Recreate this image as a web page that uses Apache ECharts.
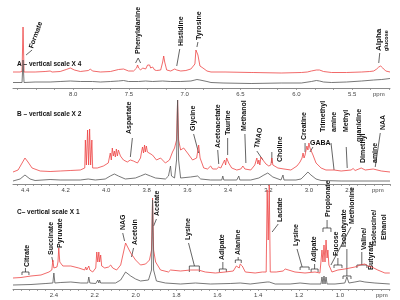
<!DOCTYPE html>
<html>
<head>
<meta charset="utf-8">
<script src="https://cdn.jsdelivr.net/npm/echarts@6/dist/echarts.min.js"></script>
<style>
  html, body { margin: 0; background: #fff; }
  #chart { width: 400px; height: 300px; }
</style>
</head>
<body>
<div id="chart"></div>
<script>
// spectra as [ppm, intensity]
const specA_red = [[8.54,16],[8.477,16],[8.459,16.5],[8.45,61],[8.441,16],[8.342,16],[8.252,16.5],[8.207,17],[8.189,16],[8.117,16.5],[8.063,18.5],[8.026,20],[7.99,18],[7.936,16.5],[7.864,17.5],[7.846,19],[7.828,17],[7.756,16],[7.666,16.5],[7.594,18.5],[7.549,19],[7.504,17],[7.459,17],[7.432,20],[7.423,23],[7.414,20],[7.396,18],[7.378,20],[7.369,18.5],[7.351,19],[7.333,23],[7.324,25],[7.315,23],[7.306,20],[7.288,21],[7.27,18],[7.252,17.5],[7.216,18],[7.198,26],[7.189,32],[7.18,26],[7.162,18],[7.126,17],[7.09,19],[7.081,21],[7.072,18],[7.036,17],[6.99,17.5],[6.945,19],[6.909,24],[6.9,38],[6.891,39],[6.882,33],[6.864,22],[6.837,20],[6.801,17],[6.765,16],[6.657,16],[6.648,17],[6.639,16],[6.405,15.5],[6.396,16.5],[6.387,15.5],[6.135,15],[5.954,15.5],[5.901,16],[5.865,17],[5.82,18],[5.792,18],[5.756,16.5],[5.684,15.5],[5.549,15.5],[5.414,16],[5.342,16.5],[5.306,17],[5.279,19],[5.261,21],[5.252,23],[5.243,22],[5.234,24],[5.225,20],[5.198,17],[5.16,16]];
const specA_gray = [[8.54,5.5],[8.459,5.5],[8.45,28],[8.441,5.5],[8.342,6],[8.207,6],[8.117,6.5],[8.026,7],[7.936,6.5],[7.828,6.5],[7.756,6],[7.666,6.5],[7.594,7],[7.549,7.5],[7.504,6.5],[7.414,6.5],[7.351,7],[7.288,6.5],[7.198,7],[7.126,6.5],[7.036,6.5],[6.945,7],[6.909,8],[6.891,8.5],[6.864,8],[6.801,6.5],[6.765,5.5],[6.657,5],[6.405,4.5],[6.135,5],[5.954,5],[5.865,6.5],[5.82,7.5],[5.792,7],[5.756,6],[5.684,5.5],[5.549,6],[5.414,7],[5.306,8],[5.234,8.5],[5.16,9.5]];

const specB_red = [[4.46,12],[4.435,14],[4.415,21],[4.401,26],[4.386,22],[4.366,16],[4.326,13],[4.277,12.5],[4.227,13],[4.178,13.5],[4.128,14],[4.106,16],[4.103,44],[4.098,19],[4.092,54],[4.087,19],[4.082,55],[4.077,19],[4.071,44],[4.067,16],[4.064,18],[4.044,16],[4.014,18],[3.99,21],[3.98,31],[3.975,24],[3.97,36],[3.965,28],[3.96,33],[3.955,27],[3.95,35],[3.945,28],[3.94,34],[3.93,28],[3.915,24],[3.896,22],[3.881,24],[3.866,23],[3.846,21],[3.831,26],[3.826,32],[3.821,37],[3.816,31],[3.811,39],[3.807,32],[3.802,38],[3.797,32],[3.792,34],[3.772,29],[3.752,24],[3.732,26],[3.708,21],[3.688,24],[3.673,32],[3.663,36],[3.653,44],[3.648,84],[3.643,44],[3.633,34],[3.618,36],[3.599,31],[3.574,24],[3.554,26],[3.544,39],[3.537,26],[3.519,16],[3.5,15],[3.485,18],[3.475,15],[3.455,15],[3.445,17],[3.435,16],[3.416,24],[3.411,19],[3.406,26],[3.396,21],[3.381,16],[3.356,14],[3.336,15],[3.326,18],[3.316,15],[3.287,14],[3.267,19],[3.257,26],[3.252,20],[3.247,24],[3.242,19],[3.237,27],[3.227,24],[3.212,20],[3.198,18],[3.188,19],[3.183,26],[3.178,19],[3.153,16],[3.123,15],[3.089,14],[3.059,18],[3.044,22],[3.034,26],[3.029,31],[3.024,26],[3.019,29],[3.014,34],[3.01,38],[3.005,34],[3.0,41],[2.995,36],[2.99,38],[2.98,29],[2.965,21],[2.94,16],[2.916,14],[2.876,14],[2.841,13],[2.792,14],[2.782,15.5],[2.772,13.5],[2.742,16],[2.722,14],[2.683,15],[2.643,13],[2.6,12]];
const specB_gray = [[4.46,3],[4.425,5],[4.401,9],[4.376,5],[4.351,3.5],[4.277,4.5],[4.227,4],[4.128,4],[4.089,5],[4.054,4],[4.005,5],[3.98,8],[3.96,10],[3.94,8],[3.906,5],[3.856,6],[3.831,8],[3.807,10],[3.782,8],[3.757,6],[3.708,5],[3.693,8],[3.683,18],[3.678,8],[3.663,6],[3.653,24],[3.648,84],[3.643,24],[3.633,6],[3.584,7],[3.549,8],[3.534,5],[3.485,4],[3.43,4],[3.425,8],[3.42,4],[3.356,4],[3.346,8],[3.341,4],[3.287,4],[3.247,6],[3.222,9],[3.203,11],[3.178,7],[3.138,4],[3.128,9],[3.123,4],[3.064,4],[3.039,5],[3.019,9],[3.005,12],[2.99,9],[2.965,5],[2.94,3.5],[2.841,3],[2.6,3]];

const specC_red = [[2.6,11],[2.561,11.5],[2.512,13],[2.463,14],[2.424,17],[2.41,19],[2.405,29],[2.4,21],[2.385,22],[2.38,27],[2.376,41],[2.371,27],[2.356,23],[2.317,23],[2.278,21],[2.249,19],[2.244,22],[2.239,19],[2.229,23],[2.224,19],[2.21,17],[2.195,21],[2.19,37],[2.185,27],[2.18,37],[2.176,27],[2.171,34],[2.166,23],[2.151,21],[2.132,22],[2.122,24],[2.112,21],[2.093,19],[2.073,24],[2.059,37],[2.049,46],[2.039,42],[2.024,36],[2.0,29],[1.976,24],[1.951,25],[1.932,29],[1.922,39],[1.917,91],[1.912,39],[1.902,27],[1.878,19],[1.839,17],[1.829,19],[1.82,17],[1.78,18],[1.732,19],[1.693,19],[1.659,17],[1.61,16],[1.561,17],[1.522,18],[1.507,23],[1.502,21],[1.498,25],[1.493,21],[1.488,25],[1.478,23],[1.463,17],[1.415,16],[1.38,17],[1.361,17],[1.356,99],[1.351,49],[1.346,104],[1.341,17],[1.312,17],[1.278,18],[1.268,20],[1.259,18],[1.22,17],[1.171,16],[1.122,17],[1.098,16],[1.093,27],[1.088,39],[1.083,27],[1.078,44],[1.073,27],[1.068,49],[1.063,31],[1.059,39],[1.054,24],[1.039,17],[1.01,19],[0.976,20],[0.951,21],[0.927,22],[0.912,23],[0.902,24],[0.893,22],[0.878,25],[0.863,23],[0.844,22],[0.815,19],[0.78,16],[0.756,16]];
const specC_gray = [[2.6,4],[2.512,4.5],[2.439,5.5],[2.405,6],[2.4,16],[2.395,6],[2.366,6.5],[2.317,7],[2.268,6],[2.234,6],[2.229,12],[2.224,6],[2.195,5.5],[2.185,9],[2.18,6],[2.176,9],[2.171,6],[2.098,6],[2.073,9],[2.049,17],[2.024,13],[2.0,10],[1.976,8],[1.937,9],[1.922,19],[1.917,89],[1.912,19],[1.898,8],[1.854,6],[1.78,5],[1.707,6],[1.634,5],[1.537,5.5],[1.488,6],[1.439,5],[1.356,7],[1.351,5],[1.346,7],[1.317,5],[1.244,5],[1.195,6],[1.146,5],[1.093,5],[1.088,12],[1.083,5],[1.078,13],[1.073,5],[1.068,12],[1.063,5],[1.024,5],[0.976,6],[0.966,12],[0.956,6],[0.927,7],[0.902,8],[0.878,7],[0.829,6],[0.756,5]];

// axis labels
const labelsA = [8.0, 7.5, 7.0, 6.5, 6.0, 5.5];
const labelsB = [4.4, 4.2, 4.0, 3.8, 3.6, 3.4, 3.2, 3.0, 2.8];
const labelsC = [2.4, 2.2, 2.0, 1.8, 1.6, 1.4, 1.2, 1.0];
const titles = ['A \u2013 vertical scale X 4', 'B \u2013 vertical scale X 2', 'C\u2013 vertical scale X 1'];

// annotations: [text, ppm, intensity (start of text), rotation]
const notesA = [['Formate',8.378,40,70],['Phenylalanine',7.423,34],['Histidine',7.036,42],['Tyrosine',6.873,48],['Alpha',5.261,37],['glucose',5.189,37]];
const leadsA = [[[8.369,38],[8.423,33]],[[7.441,25],[7.418,30],[7.396,25]],[[7.045,39],[7.072,22]],[[6.882,46],[6.891,41]],[[5.252,35],[5.261,25]]];
const notesB = [['Aspartate',3.886,50],['Glycine',3.574,53],['Acetoacetate',3.45,36],['Taurine',3.401,49],['Methanol',3.321,53],['TMAO',3.257,36,80],['Choline',3.143,22],['Creatine',3.024,44],['GABA',2.995,41,0],['Trimethyl',2.93,52],['amine',2.876,52],['Methyl',2.816,52],['guanidine',2.752,42],['Dimethyl',2.732,21],['amine',2.673,21],['NAA',2.633,54]];
const leadsB = [[[3.871,46],[3.881,27]],[[3.569,50],[3.544,31]],[[3.45,34],[3.445,20]],[[3.401,46],[3.401,29]],[[3.316,50],[3.311,21]],[[3.257,33],[3.227,24]],[[3.183,32],[3.183,21]],[[3.019,41],[3.019,32]],[[2.98,37],[2.995,32]],[[2.891,41],[2.876,14]],[[2.816,37],[2.811,16]],[[2.648,51],[2.673,17]]];
const notesC = [['Citrate',2.532,22],['Succinate',2.415,34],['Pyruvate',2.371,41],['NAG',2.063,59],['Acetoin',2.005,44],['Acetate',1.893,73],['Lysine',1.741,49],['Adipate',1.576,29],['Alanine',1.498,34],['Lactate',1.293,67],['Lysine',1.215,43],['Adipate',1.127,27],['Propionate',1.059,72],['Fucose',1.02,33],['Isobutyrate',0.98,42],['Methionine',0.941,65],['Valine/',0.883,39],['Isoleucine/',0.834,43],['Ethanol',0.785,49],['Butyrate',0.849,19]];
const leadsC = [
  [[2.539,21],[2.539,17]], [[2.556,14],[2.556,17],[2.522,17],[2.522,14]],
  [[2.41,32],[2.405,27]],
  [[2.063,56],[2.054,48]],
  [[2.01,41],[2.02,32]],
  [[1.898,70],[1.912,63]],
  [[1.741,46],[1.712,23]], [[1.737,17],[1.737,23],[1.688,23],[1.688,17]],
  [[1.573,27],[1.573,20]], [[1.59,17],[1.59,20],[1.556,20],[1.556,17]],
  [[1.498,32],[1.498,29]], [[1.512,26],[1.512,29],[1.483,29],[1.483,26]],
  [[1.302,65],[1.332,57]],
  [[1.21,40],[1.185,22]], [[1.195,19],[1.195,22],[1.151,22],[1.151,19]],
  [[1.124,25],[1.124,20]], [[1.141,17],[1.141,20],[1.107,20],[1.107,17]],
  [[1.063,69],[1.063,61]], [[1.083,57],[1.083,61],[1.044,61],[1.044,57]],
  [[1.01,31],[1.01,24]], [[1.029,21],[1.029,24],[0.99,24],[0.99,21]],
  [[0.966,40],[0.966,13]], [[0.985,10],[0.985,13],[0.946,13],[0.946,10]],
  [[0.946,62],[1.044,24]],
  [[0.893,37],[0.893,24]], [[0.917,21],[0.917,24],[0.868,24],[0.868,21]]
];

const FONT = 'Liberation Sans, Arial, sans-serif';
const ranges = [[5.16, 8.54], [2.6, 4.46], [0.755, 2.6]];
const ppmPos = [5.26, 2.66, 0.795];
const tickStart = [8.5, 4.44, 2.6];
const tickStep = [1 / 6, 0.04, 0.04];
const tops = [8, 104, 209];

function ticks(i) {
  const out = [];
  for (let v = tickStart[i]; v >= ranges[i][0] - 1e-9; v -= tickStep[i]) out.push(Math.round(v * 1000) / 1000);
  return out;
}

const labelSets = [labelsA, labelsB, labelsC];
const chart = echarts.init(document.getElementById('chart'));

const grid = tops.map(t => ({ left: 13, right: 10, top: t, height: 80 }));
const xAxis = [0, 1, 2].map(i => ({
  type: 'value', gridIndex: i, inverse: true,
  min: ranges[i][0], max: ranges[i][1],
  splitLine: { show: false },
  axisLine: { lineStyle: { color: '#8a8a8a', width: 1 } },
  axisTick: { customValues: ticks(i), length: 2, lineStyle: { color: '#8a8a8a', width: 0.8 } },
  axisLabel: {
    customValues: labelSets[i].concat([ppmPos[i]]),
    fontSize: 6, color: '#444', margin: 3, fontFamily: FONT,
    formatter: v => Math.abs(v - ppmPos[i]) < 1e-6 ? 'ppm' : v.toFixed(1)
  }
}));
const yAxis = [0, 1, 2].map(i => ({ type: 'value', gridIndex: i, show: false, min: 0, max: 80 }));

function line(data, i, color) {
  return {
    type: 'line', xAxisIndex: i, yAxisIndex: i, data: data,
    symbol: 'none', clip: false, silent: true,
    lineStyle: { color: color, width: 0.8 }
  };
}

chart.setOption({
  animation: false,
  title: titles.map((t, i) => ({
    text: t, left: 17, top: [61, 111, 209][i], padding: 0,
    textStyle: { fontSize: 6.5, fontWeight: 'bold', color: '#111', fontFamily: FONT }
  })),
  grid: grid, xAxis: xAxis, yAxis: yAxis,
  series: [
    line(specA_red, 0, '#ee4444'), line(specA_gray, 0, '#555'),
    line(specB_red, 1, '#ee4444'), line(specB_gray, 1, '#555'),
    line(specC_red, 2, '#ee4444'), line(specC_gray, 2, '#555')
  ]
});

// annotation text and leader lines, placed through the chart's own scales
const sizes = { Alpha: 8, glucose: 5.5 };
const graphic = [];
[[notesA, leadsA], [notesB, leadsB], [notesC, leadsC]].forEach(([notes, leads], g) => {
  notes.forEach(n => {
    const p = chart.convertToPixel({ gridIndex: g }, [n[1], n[2]]);
    const rot = n[3] === undefined ? 90 : n[3];
    graphic.push({
      type: 'text', x: p[0], y: p[1], rotation: rot * Math.PI / 180, silent: true,
      style: {
        text: n[0], fill: '#111', align: 'left', verticalAlign: 'middle',
        font: 'bold ' + (sizes[n[0]] || 7) + 'px ' + FONT
      }
    });
  });
  leads.forEach(pts => {
    graphic.push({
      type: 'polyline', silent: true,
      shape: { points: pts.map(q => chart.convertToPixel({ gridIndex: g }, q)) },
      style: { stroke: '#222', lineWidth: 0.7, fill: null }
    });
  });
});
chart.setOption({ graphic: graphic });
</script>
</body>
</html>
